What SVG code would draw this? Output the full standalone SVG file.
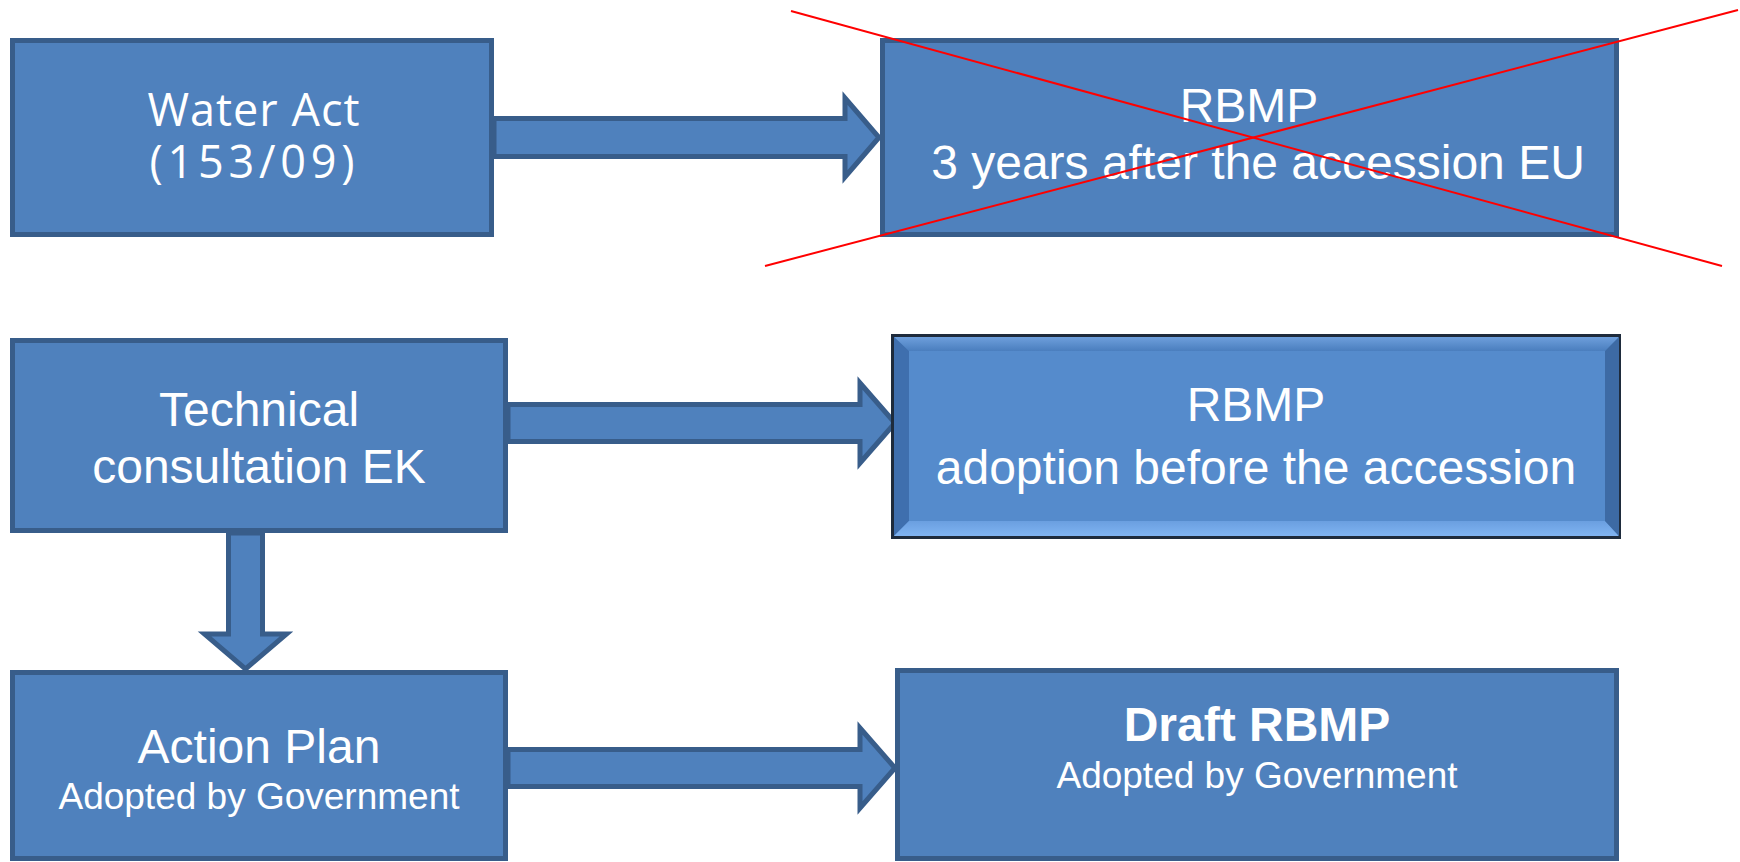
<svg xmlns="http://www.w3.org/2000/svg" width="1740" height="862" viewBox="0 0 1740 862">
  <style>
    .box { fill: #4F81BD; stroke: #385D8A; stroke-width: 5; }
    .arrow { fill: #4F81BD; stroke: #385D8A; stroke-width: 5; stroke-linejoin: miter; stroke-miterlimit: 4; }
    .t { fill: #FFFFFF; font-family: "Liberation Sans", Arial, sans-serif; text-anchor: middle; }
    .big { font-size: 48px; }
    .small { font-size: 37px; }
    .hum { font-family: "Open Sans", "Noto Sans", sans-serif; font-size: 45px; }
    .strike { stroke: #FF0000; stroke-width: 2; fill: none; }
  </style>
  <defs>
    <linearGradient id="bevTop" x1="0" y1="0" x2="0" y2="1">
      <stop offset="0" stop-color="#6E9FDC"/>
      <stop offset="1" stop-color="#4A7EBE"/>
    </linearGradient>
    <linearGradient id="bevBot" x1="0" y1="0" x2="0" y2="1">
      <stop offset="0" stop-color="#6A9FE0"/>
      <stop offset="1" stop-color="#80B4F2"/>
    </linearGradient>
  </defs>

  <rect width="1740" height="862" fill="#FFFFFF"/>

  <g id="connectors">
    <path class="arrow" d="M 494 118.5 H 845 V 98 L 879 137.5 L 845 177 V 156.5 H 494 Z"/>
    <path class="arrow" d="M 508 404.5 H 860 V 383 L 895 423 L 860 463 V 441.5 H 508 Z"/>
    <path class="arrow" d="M 508 749.5 H 860 V 728 L 895 768 L 860 808 V 786.5 H 508 Z"/>
    <path class="arrow" d="M 228.5 533 V 634 H 204.5 L 245.5 669 L 286.5 634 H 262.5 V 533 Z"/>
  </g>

  <g id="node-water-act">
    <rect class="box" x="12.5" y="40.5" width="479" height="194"/>
    <text class="t hum" x="254" y="126" letter-spacing="1">Water Act</text>
    <text class="t hum" x="252" y="178" textLength="205" lengthAdjust="spacing">(153/09)</text>
  </g>

  <g id="node-rbmp-3years">
    <rect class="box" x="882.5" y="40.5" width="734" height="194"/>
    <text class="t big" x="1249" y="122">RBMP</text>
    <text class="t big" x="1258" y="179">3 years after the accession EU</text>
  </g>

  <g id="node-technical">
    <rect class="box" x="12.5" y="340.5" width="493" height="190"/>
    <text class="t big" x="259" y="426">Technical</text>
    <text class="t big" x="259" y="483">consultation EK</text>
  </g>

  <g id="node-rbmp-adoption">
    <rect x="892.5" y="335.5" width="727" height="202" fill="#558BCC" stroke="#1E2B3C" stroke-width="3"/>
    <polygon points="894,337 1619,337 1605,351 909,351" fill="url(#bevTop)"/>
    <polygon points="894,337 909,351 909,521 894,536" fill="#3F6FAE"/>
    <polygon points="894,536 909,521 1605,521 1619,536" fill="url(#bevBot)"/>
    <polygon points="1619,337 1605,351 1605,521 1619,536" fill="#3D6AA4"/>
    <text class="t big" x="1256" y="421">RBMP</text>
    <text class="t big" x="1256" y="484">adoption before the accession</text>
  </g>

  <g id="node-action-plan">
    <rect class="box" x="12.5" y="672.5" width="493" height="186"/>
    <text class="t big" x="259" y="763">Action Plan</text>
    <text class="t small" x="259" y="809">Adopted by Government</text>
  </g>

  <g id="node-draft-rbmp">
    <rect class="box" x="897.5" y="670.5" width="719" height="188"/>
    <text class="t big" x="1257" y="741" font-weight="bold">Draft RBMP</text>
    <text class="t small" x="1257" y="788">Adopted by Government</text>
  </g>

  <g id="strike-out">
    <line class="strike" x1="791" y1="11" x2="1722" y2="266"/>
    <line class="strike" x1="765" y1="266" x2="1738" y2="10"/>
  </g>
</svg>
